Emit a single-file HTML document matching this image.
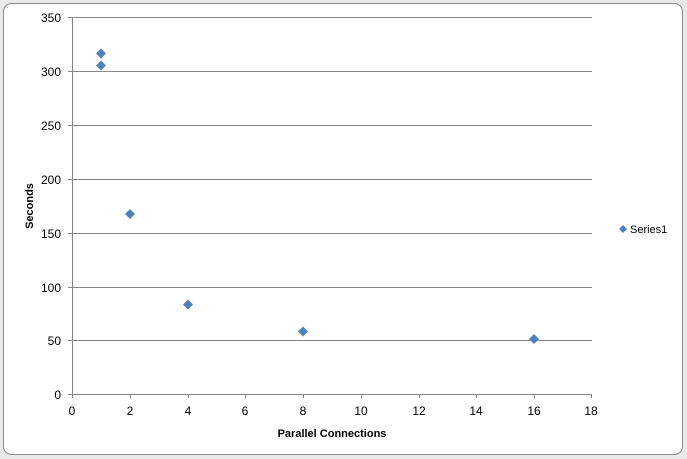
<!DOCTYPE html>
<html><head><style>body{margin:0;background:#fff}svg{display:block}text{font-family:"Liberation Sans",Arial,sans-serif}</style></head><body>
<svg width="687" height="459" xmlns="http://www.w3.org/2000/svg">
<rect x="0" y="0" width="687" height="459" fill="#e9e9e9"/>
<rect x="3.5" y="3.5" width="679" height="451" rx="8" fill="#fff" stroke="#8c8c8c"/>
<g stroke="#868686" stroke-width="1">
<line x1="72" y1="17.5" x2="592" y2="17.5"/>
<line x1="72" y1="71.5" x2="592" y2="71.5"/>
<line x1="72" y1="125.5" x2="592" y2="125.5"/>
<line x1="72" y1="179.5" x2="592" y2="179.5"/>
<line x1="72" y1="233.5" x2="592" y2="233.5"/>
<line x1="72" y1="287.5" x2="592" y2="287.5"/>
<line x1="72" y1="340.5" x2="592" y2="340.5"/>
<line x1="72.5" y1="17" x2="72.5" y2="394"/>
<line x1="68" y1="394.5" x2="592" y2="394.5"/>
<g>
<line x1="68" y1="17.5" x2="72" y2="17.5"/><line x1="68" y1="71.5" x2="72" y2="71.5"/><line x1="68" y1="125.5" x2="72" y2="125.5"/><line x1="68" y1="179.5" x2="72" y2="179.5"/><line x1="68" y1="233.5" x2="72" y2="233.5"/><line x1="68" y1="287.5" x2="72" y2="287.5"/><line x1="68" y1="340.5" x2="72" y2="340.5"/>
<line x1="130.5" y1="394" x2="130.5" y2="398"/><line x1="188.5" y1="394" x2="188.5" y2="398"/><line x1="245.5" y1="394" x2="245.5" y2="398"/><line x1="303.5" y1="394" x2="303.5" y2="398"/><line x1="361.5" y1="394" x2="361.5" y2="398"/><line x1="419.5" y1="394" x2="419.5" y2="398"/><line x1="476.5" y1="394" x2="476.5" y2="398"/><line x1="534.5" y1="394" x2="534.5" y2="398"/><line x1="591.5" y1="394" x2="591.5" y2="398"/>
<line x1="72.5" y1="394" x2="72.5" y2="398"/>
</g></g>
<g font-size="12" fill="#000" text-anchor="end">
<text x="61" y="22">350</text><text x="61" y="76">300</text><text x="61" y="130">250</text><text x="61" y="184">200</text><text x="61" y="238">150</text><text x="61" y="292">100</text><text x="61" y="345">50</text><text x="61" y="399">0</text>
</g>
<g font-size="12" fill="#000" text-anchor="middle">
<text x="72" y="415">0</text><text x="130" y="415">2</text><text x="188" y="415">4</text><text x="245" y="415">6</text><text x="303" y="415">8</text><text x="361" y="415">10</text><text x="419" y="415">12</text><text x="476" y="415">14</text><text x="534" y="415">16</text><text x="591" y="415">18</text>
</g>
<text x="332" y="437" font-size="11" font-weight="bold" text-anchor="middle">Parallel Connections</text>
<text transform="translate(33,206) rotate(-90)" font-size="11" font-weight="bold" text-anchor="middle">Seconds</text>
<g fill="#4f81bd">
<path d="M101 48.5l5 5-5 5-5-5z"/>
<path d="M101 60.5l5 5-5 5-5-5z"/>
<path d="M130 209l5 5-5 5-5-5z"/>
<path d="M188 299.5l5 5-5 5-5-5z"/>
<path d="M303 326.5l5 5-5 5-5-5z"/>
<path d="M534 334l5 5-5 5-5-5z"/>
<path d="M623 225l4 4-4 4-4-4z"/>
</g>
<text x="630" y="233" font-size="11">Series1</text>
</svg>
</body></html>
